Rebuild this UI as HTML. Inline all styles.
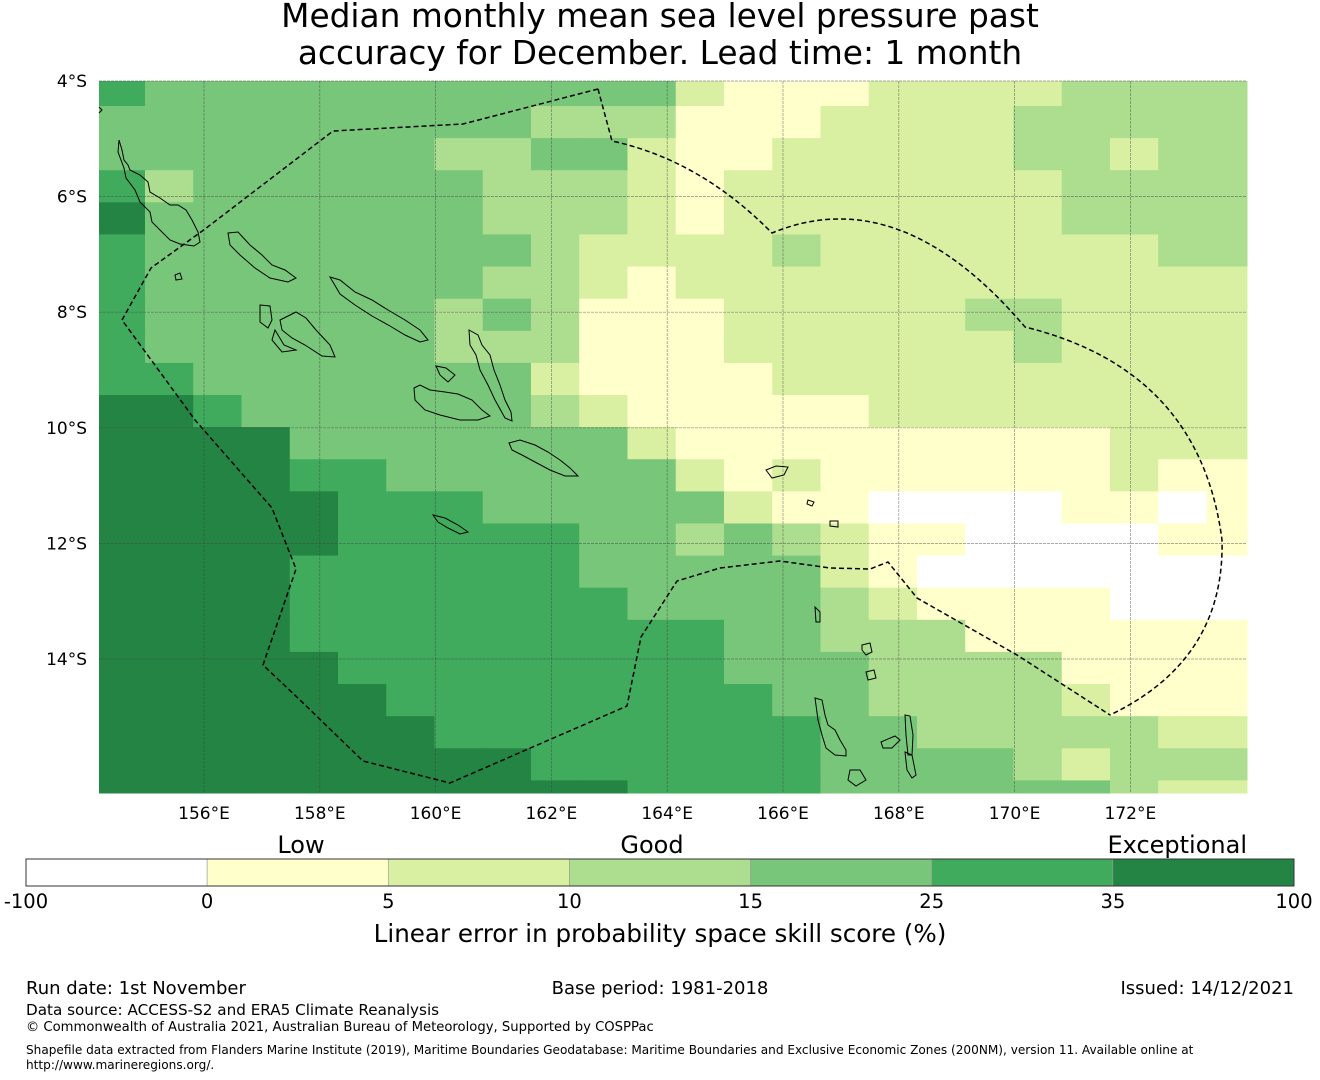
<!DOCTYPE html>
<html><head><meta charset="utf-8">
<style>
body{margin:0;width:1320px;height:1080px;background:#fff;overflow:hidden}
svg{display:block}
text{font-family:"DejaVu Sans","Liberation Sans",sans-serif;fill:#000}
</style></head>
<body>
<svg id="chart" width="1320" height="1080" viewBox="0 0 1320 1080">
<text x="660" y="27" text-anchor="middle" font-size="32.8">Median monthly mean sea level pressure past</text>
<text x="660" y="64" text-anchor="middle" font-size="32.8">accuracy for December. Lead time: 1 month</text>
<g id="cells"></g>
<g id="grid"></g>
<g id="coast" fill="none" stroke="#000" stroke-width="1">
<path d="M119,140 L122,150 L124,160 L128,165 L130,170 L140,175 L148,182 L150,192 L160,198 L170,205 L178,205 L186,210 L192,220 L198,232 L200,242 L194,246 L180,244 L170,240 L162,232 L152,222 L150,212 L140,202 L135,190 L126,178 L124,168 L118,152 Z"/>
<path d="M228,233 L238,232 L250,245 L262,255 L272,265 L285,270 L296,278 L288,282 L270,278 L255,268 L240,255 L230,245 Z"/>
<path d="M330,277 L340,280 L355,292 L372,300 L388,310 L405,320 L420,330 L428,340 L420,342 L405,335 L390,326 L372,316 L355,305 L340,294 Z"/>
<path d="M260,305 L270,306 L272,320 L268,328 L260,322 Z M280,320 L296,312 L306,318 L316,330 L330,345 L335,357 L322,356 L305,345 L292,338 L282,330 Z M275,330 L284,345 L296,350 L282,352 L272,340 Z"/>
<path d="M469,330 L478,335 L482,345 L490,355 L494,370 L500,385 L505,400 L511,412 L512,421 L505,418 L495,400 L488,385 L480,370 L476,355 L470,345 Z"/>
<path d="M414,388 L420,385 L430,390 L445,392 L458,394 L472,400 L482,410 L490,416 L478,420 L460,420 L440,415 L425,410 L415,400 Z"/>
<path d="M436,366 L446,368 L455,375 L448,382 L440,375 Z"/>
<path d="M509,443 L520,440 L535,445 L548,452 L560,460 L570,468 L578,476 L565,476 L550,470 L535,462 L522,455 L512,450 Z"/>
<path d="M433,515 L445,518 L458,525 L468,532 L460,534 L448,528 L438,522 Z"/>
<path d="M766,470 L776,466 L788,467 L784,475 L772,478 Z M808,500 L814,502 L812,506 L807,504 Z M830,521 L838,521 L838,527 L830,526 Z"/>
<path d="M815,698 L822,700 L825,715 L828,725 L835,730 L840,740 L846,750 L846,756 L835,755 L826,748 L822,735 L818,720 Z"/>
<path d="M881,742 L895,736 L900,740 L892,748 L883,748 Z M905,715 L910,716 L913,735 L912,755 L908,755 L906,735 Z M905,752 L912,755 L916,775 L912,778 L907,770 Z M850,770 L860,770 L866,780 L856,786 L848,780 Z M862,645 L870,643 L872,652 L866,655 L862,650 Z M866,672 L874,670 L876,678 L868,680 Z M815,607 L820,612 L820,622 L816,622 Z"/>
<path d="M175,275 L180,273 L182,279 L176,280 Z M99,107 L102,110 L99,113"/>
</g>
<polyline fill="none" stroke="#000" stroke-width="1.5" stroke-dasharray="5,3" points="598,89 463,124 333,131 205,229 151,268 122,320 195,420 272,508 296,569 263,665 300,700 363,761 450,783 627,706 641,637 677,581 720,568 780,561 830,568 870,569 888,562 917,598 1017,655 1110,715"/>
<path fill="none" stroke="#000" stroke-width="1.5" stroke-dasharray="5,3" d="M598,89 L612,141 Q700,160 772,233 Q900,180 1025,327 Q1200,370 1222,540 Q1225,660 1110,715"/>
<g id="axes"></g>
<g id="cbar"></g>
<text x="660" y="942" text-anchor="middle" font-size="24.6">Linear error in probability space skill score (%)</text>
<text x="26" y="994" font-size="18">Run date: 1st November</text>
<text x="660" y="994" text-anchor="middle" font-size="18">Base period: 1981-2018</text>
<text x="1294" y="994" text-anchor="end" font-size="18">Issued: 14/12/2021</text>
<text x="26" y="1015" font-size="15.2">Data source: ACCESS-S2 and ERA5 Climate Reanalysis</text>
<text x="26" y="1031" font-size="13.2">© Commonwealth of Australia 2021, Australian Bureau of Meteorology, Supported by COSPPac</text>
<text x="26" y="1054" font-size="12.1">Shapefile data extracted from Flanders Marine Institute (2019), Maritime Boundaries Geodatabase: Maritime Boundaries and Exclusive Economic Zones (200NM), version 11. Available online at</text>
<text x="26" y="1069" font-size="12.1">http://www.marineregions.org/.</text>
</svg>
<script>
const colors = ["#ffffff","#ffffcc","#d9f0a3","#addd8e","#78c679","#41ab5d","#238443"];
const cbarTicks = ["-100","0","5","10","15","25","35","100"];
const cbarCategories = ["Low","Good","Exceptional"];
const lonTicks = [156,158,160,162,164,166,168,170,172];
const latTicks = [4,6,8,10,12,14];
const row0 = [5,4,4,4,4,4,4,4,4,4,4,4,2,1,1,1,2,2,2,2,3,3,3,3];
const row1 = [4,4,4,4,4,4,4,4,4,3,3,3,1,1,1,2,2,2,2,3,3,3,3,3];
const row2 = [4,4,4,4,4,4,4,3,3,4,4,2,1,1,2,2,2,2,2,3,3,2,3,3];
const row3 = [5,3,4,4,4,4,4,4,3,3,3,2,1,2,2,2,2,2,2,2,3,3,3,3];
const row4 = [6,4,4,4,4,4,4,4,3,3,3,2,1,2,2,2,2,2,2,2,3,3,3,3];
const row5 = [5,4,4,4,4,4,4,4,4,3,2,2,2,2,3,2,2,2,2,2,2,2,3,3];
const row6 = [5,4,4,4,4,4,4,4,3,3,2,1,2,2,2,2,2,2,2,2,2,2,2,2];
const row7 = [5,4,4,4,4,4,4,3,4,3,1,1,1,2,2,2,2,2,3,3,2,2,2,2];
const row8 = [5,4,4,4,4,4,4,3,3,3,1,1,1,2,2,2,2,2,2,3,2,2,2,2];
const row9 = [5,5,4,4,4,4,4,4,4,2,1,1,1,1,2,2,2,2,2,2,2,2,2,2];
const row10 = [6,6,5,4,4,4,4,4,4,3,2,1,1,1,1,1,2,2,2,2,2,2,2,2];
const row11 = [6,6,6,6,4,4,4,4,4,4,4,2,1,1,1,1,1,1,1,1,1,2,2,2];
const row12 = [6,6,6,6,5,5,4,4,4,4,4,4,2,1,2,1,1,1,1,1,1,2,1,1];
const row13 = [6,6,6,6,6,5,5,5,4,4,4,4,4,2,1,1,0,0,0,0,1,1,0,1];
const row14 = [6,6,6,6,6,5,5,5,5,5,4,4,3,4,3,2,1,1,0,0,0,0,1,1];
const row15 = [6,6,6,6,5,5,5,5,5,5,4,4,4,4,4,2,1,0,0,0,0,0,0,0];
const row16 = [6,6,6,6,5,5,5,5,5,5,5,4,4,4,4,3,2,1,1,1,1,0,0,0];
const row17 = [6,6,6,6,5,5,5,5,5,5,5,5,5,4,4,3,3,3,1,1,1,1,1,1];
const row18 = [6,6,6,6,6,5,5,5,5,5,5,5,5,4,4,4,3,3,3,3,1,1,1,1];
const row19 = [6,6,6,6,6,6,5,5,5,5,5,5,5,5,4,4,3,3,3,3,2,1,1,1];
const row20 = [6,6,6,6,6,6,6,5,5,5,5,5,5,5,5,4,4,3,3,3,3,3,2,2];
const row21 = [6,6,6,6,6,6,6,6,6,5,5,5,5,5,5,4,4,4,4,3,2,3,3,3];
const row22 = [6,6,6,6,6,6,6,6,6,6,6,5,5,5,5,4,4,4,4,4,4,3,2,2];
const grid = [row0,row1,row2,row3,row4,row5,row6,row7,row8,row9,row10,row11,row12,row13,row14,row15,row16,row17,row18,row19,row20,row21,row22];

const NS="http://www.w3.org/2000/svg";
const L=99,R=1247,T=81,B=793;
const pxLon=57.9, pxLat=57.8;
const xLon = lon => 204 + (lon-156)*pxLon;
const yLat = lat => 81 + (lat-4)*pxLat;
const cellW = pxLon*0.8333, cellH = pxLat*0.5556;
const colEdge = i => i===0 ? L : Math.min(R, 145 + cellW*(i-1));
const rowEdge = j => j===0 ? T : Math.min(B, 106 + cellH*(j-1));
function mk(tag, attrs, parent){const e=document.createElementNS(NS,tag);for(const k in attrs)e.setAttribute(k,attrs[k]);parent.appendChild(e);return e;}

const cells=document.getElementById('cells');
grid.forEach((row,j)=>{row.forEach((v,i)=>{
  const x0=colEdge(i),x1=colEdge(i+1),y0=rowEdge(j),y1=rowEdge(j+1);
  const r=mk('rect',{x:x0,y:y0,width:x1-x0+0.5,height:y1-y0+0.5,fill:colors[v]},cells);
  
  
});});

const g=document.getElementById('grid');
lonTicks.forEach(lon=>{const l=mk('line',{x1:xLon(lon),x2:xLon(lon),y1:T,y2:B,stroke:'#444','stroke-width':0.7,'stroke-opacity':0.6,'stroke-dasharray':'3,1'},g);
  
  });
latTicks.forEach(lat=>{const l=mk('line',{x1:L,x2:R,y1:yLat(lat),y2:yLat(lat),stroke:'#444','stroke-width':0.7,'stroke-opacity':0.6,'stroke-dasharray':'3,1'},g);
  
  });

const ax=document.getElementById('axes');
lonTicks.forEach(lon=>{const t=mk('text',{x:xLon(lon),y:819,'text-anchor':'middle','font-size':17},ax);t.textContent=lon+'°E';
  
  });
latTicks.forEach(lat=>{const t=mk('text',{x:87,y:yLat(lat)+6,'text-anchor':'end','font-size':17},ax);t.textContent=lat+'°S';
  
  });

const cb=document.getElementById('cbar');
const cbL=26,cbR=1294,cbT=859,cbB=886,segW=(cbR-cbL)/7;
colors.forEach((c,i)=>{const r=mk('rect',{x:cbL+i*segW,y:cbT,width:segW,height:cbB-cbT,fill:c,stroke:'#999','stroke-width':0.6},cb);
  
  });
const fr=mk('rect',{x:cbL,y:cbT,width:cbR-cbL,height:cbB-cbT,fill:'none',stroke:'#333','stroke-width':1},cb);


cbarTicks.forEach((s,i)=>{const t=mk('text',{x:cbL+i*segW,y:908,'text-anchor':'middle','font-size':19.5},cb);t.textContent=s;
  
  });
const catX=[301, 652, 1247];
cbarCategories.forEach((s,i)=>{const t=mk('text',{x:catX[i],y:853,'text-anchor':i===2?'end':'middle','font-size':24},cb);t.textContent=s;
  
  });
</script>
</body></html>
